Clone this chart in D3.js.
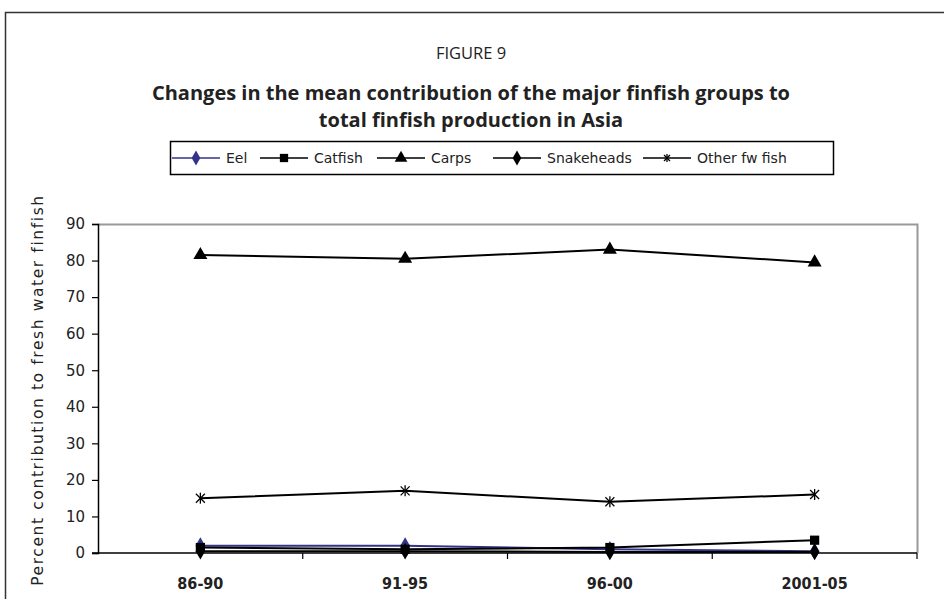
<!DOCTYPE html>
<html>
<head>
<meta charset="utf-8">
<script src="https://cdn.jsdelivr.net/npm/d3@7/dist/d3.min.js"></script>
<style>
  html, body { margin: 0; padding: 0; background: #fff; }
  svg { display: block; }
</style>
</head>
<body>
<svg id="chart" width="944" height="599"></svg>
<script>
// Periods on the category axis
const periods = ["86-90", "91-95", "96-00", "2001-05"];

// Mean contribution (%) to freshwater finfish production, per group
const eel        = [2.0, 2.0, 1.0, 0.5];
const catfish    = [1.5, 1.0, 1.5, 3.5];
const carps      = [81.5, 80.5, 83.0, 79.5];
const snakeheads = [0.5, 0.5, 0.3, 0.3];
const otherFw    = [15.0, 17.0, 14.0, 16.0];

const seriesNames = ["Eel", "Catfish", "Carps", "Snakeheads", "Other fw fish"];
const yTicks = [0, 10, 20, 30, 40, 50, 60, 70, 80, 90];

const series = [
  { name: seriesNames[0], values: eel,        color: "#333388", marker: "diamond" },
  { name: seriesNames[1], values: catfish,    color: "#000",    marker: "square" },
  { name: seriesNames[2], values: carps,      color: "#000",    marker: "triangle" },
  { name: seriesNames[3], values: snakeheads, color: "#000",    marker: "diamond" },
  { name: seriesNames[4], values: otherFw,    color: "#000",    marker: "star" }
];

const svg = d3.select("#chart");

// Outer figure frame
svg.append("rect")
  .attr("x", 5.5).attr("y", 12.5)
  .attr("width", 960).attr("height", 620)
  .attr("fill", "none").attr("stroke", "#333").attr("stroke-width", 1.5);

const titleFont = "'Open Sans', 'Noto Sans', sans-serif";
svg.append("text")
  .attr("x", 471).attr("y", 59)
  .attr("text-anchor", "middle")
  .attr("font-family", titleFont).attr("font-size", 16.5)
  .attr("fill", "#222")
  .text("FIGURE 9");

const titleLines = [
  "Changes in the mean contribution of the major finfish groups to",
  "total finfish production in Asia"
];
svg.selectAll("text.title")
  .data(titleLines).enter().append("text")
  .attr("class", "title")
  .attr("x", 471).attr("y", (d, i) => 100 + i * 27)
  .attr("text-anchor", "middle")
  .attr("font-family", titleFont).attr("font-size", 20).attr("font-weight", "bold")
  .attr("fill", "#222")
  .text(d => d);

// Plot area
const plotL = 98, plotR = 917, plotT = 224, plotB = 553;

const x = d3.scaleBand().domain(periods).range([plotL, plotR]);
const y = d3.scaleLinear().domain([0, 90]).range([plotB, plotT]);
const xc = d => x(d) + x.bandwidth() / 2;

// Grey frame on top and right
svg.append("path")
  .attr("d", `M${plotL},${plotT + 0.5}H${plotR + 0.5}V${plotB}`)
  .attr("fill", "none").attr("stroke", "#999").attr("stroke-width", 2);

const axisFont = "'DejaVu Sans', Verdana, sans-serif";

// Y axis
const yAxis = svg.append("g")
  .attr("transform", `translate(${plotL},0)`)
  .call(d3.axisLeft(y).tickValues(yTicks).tickSize(6).tickPadding(7));
yAxis.select(".domain").attr("stroke", "#000").attr("stroke-width", 1.5);
yAxis.selectAll(".tick line").attr("stroke", "#000").attr("stroke-width", 1.2);
yAxis.selectAll(".tick text")
  .attr("font-family", axisFont).attr("font-size", 15).attr("fill", "#222");

// X axis: ticks at band boundaries
const xAxisG = svg.append("g");
xAxisG.append("line")
  .attr("x1", plotL - 6).attr("x2", plotR)
  .attr("y1", plotB).attr("y2", plotB)
  .attr("stroke", "#000").attr("stroke-width", 1.5);
const boundaries = periods.map(p => x(p)).concat([plotR]);
xAxisG.selectAll("line.xt")
  .data(boundaries.slice(1)).enter().append("line")
  .attr("class", "xt")
  .attr("x1", d => d).attr("x2", d => d)
  .attr("y1", plotB).attr("y2", plotB + 6)
  .attr("stroke", "#000").attr("stroke-width", 1.2);
xAxisG.selectAll("text.xl")
  .data(periods).enter().append("text")
  .attr("class", "xl")
  .attr("x", d => xc(d)).attr("y", 589)
  .attr("text-anchor", "middle")
  .attr("font-family", "'Liberation Sans Narrow', 'DejaVu Sans Condensed', sans-serif")
  .attr("font-weight", "bold").attr("font-size", 16).attr("fill", "#222")
  .text(d => d);

// Y axis title
svg.append("text")
  .attr("transform", `translate(43,390) rotate(-90)`)
  .attr("text-anchor", "middle")
  .attr("font-family", axisFont).attr("font-size", 15.5)
  .attr("letter-spacing", 1.6).attr("fill", "#222")
  .text("Percent contribution to fresh water finfish");

// Marker shapes
function markerPath(kind, s) {
  if (kind === "diamond") return d3.symbol(d3.symbolDiamond, s * s * 0.8)();
  if (kind === "square") return d3.symbol(d3.symbolSquare, s * s * 0.85)();
  if (kind === "triangle") return d3.symbol(d3.symbolTriangle, s * s * 0.85)();
  return null;
}
function drawMarker(g, kind, cx, cy, color, s) {
  if (kind === "star") {
    const r = s / 2;
    const t = g.append("g").attr("transform", `translate(${cx},${cy})`)
      .attr("stroke", color).attr("stroke-width", 1.3);
    t.append("line").attr("x1", -r).attr("x2", r).attr("y1", -r).attr("y2", r);
    t.append("line").attr("x1", -r).attr("x2", r).attr("y1", r).attr("y2", -r);
    t.append("line").attr("x1", 0).attr("x2", 0).attr("y1", -r - 1).attr("y2", r + 1);
  } else {
    g.append("path")
      .attr("d", markerPath(kind, s))
      .attr("transform", `translate(${cx},${cy})`)
      .attr("fill", color);
  }
}

const line = d3.line().x((d, i) => xc(periods[i])).y(d => y(d));

const plot = svg.append("g");
series.forEach(s => {
  plot.append("path")
    .datum(s.values)
    .attr("d", line)
    .attr("fill", "none")
    .attr("stroke", s.color)
    .attr("stroke-width", 2);
});
series.forEach(s => {
  const g = plot.append("g");
  s.values.forEach((v, i) => drawMarker(g, s.marker, xc(periods[i]), y(v), s.color, s.marker === "star" ? 9 : 10));
});

// Legend
const lg = svg.append("g");
lg.append("rect")
  .attr("x", 170.5).attr("y", 141.5).attr("width", 663).attr("height", 33)
  .attr("fill", "#fff").attr("stroke", "#000").attr("stroke-width", 1.5);
const legendX = [172, 260, 377, 493, 643];
series.forEach((s, i) => {
  const gx = legendX[i], gy = 158;
  lg.append("line")
    .attr("x1", gx).attr("x2", gx + 48).attr("y1", gy).attr("y2", gy)
    .attr("stroke", s.color).attr("stroke-width", 1.5);
  drawMarker(lg, s.marker, gx + 24, gy, s.color, s.marker === "star" ? 6 : 9);
  lg.append("text")
    .attr("x", gx + 54).attr("y", gy + 5)
    .attr("font-family", axisFont).attr("font-size", 14).attr("fill", "#222")
    .text(s.name);
});
</script>
</body>
</html>
